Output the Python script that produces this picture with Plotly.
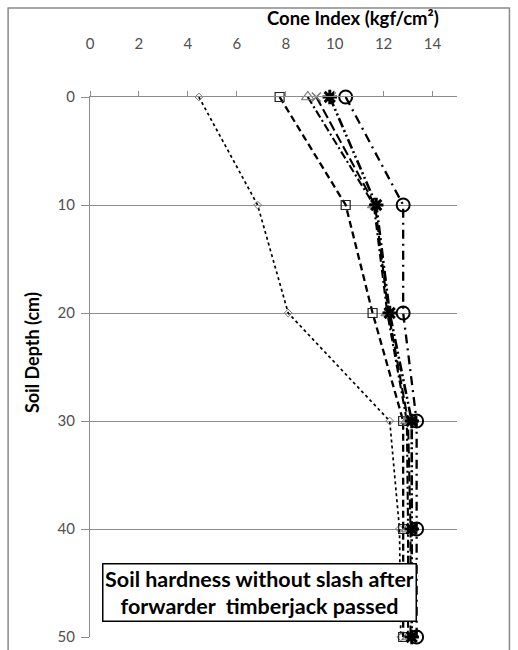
import plotly.graph_objects as go

# Soil depth (cm) and cone index readings (kgf/cm²) for each measurement line
depth = [0, 10, 20, 30, 40, 50]
ci_diamond = [4.45, 6.85, 8.1, 12.25, 12.65, 12.7]
ci_square = [7.75, 10.45, 11.55, 12.8, 12.8, 12.8]
ci_triangle = [8.9, 11.6, 12.15, 12.95, 13.0, 13.0]
ci_cross = [9.25, 11.65, 12.2, 13.0, 13.1, 13.1]
ci_star = [9.8, 11.7, 12.25, 13.15, 13.15, 13.15]
ci_circle = [10.45, 12.8, 12.8, 13.35, 13.35, 13.35]

x_ticks = [0, 2, 4, 6, 8, 10, 12, 14]
y_ticks = [0, 10, 20, 30, 40, 50]

W, H = 518, 650
ML, MR, MT, MB = 90, 60.5, 97, 13
PW, PH = W - ML - MR, H - MT - MB

FONT = "Lato, 'Open Sans', sans-serif"
GREY = "#8c8c8c"

series = [
    (ci_diamond, "diamond-open", 6, 1.0, "#777777", "dot", 1.7),
    (ci_square, "square-open", 9, 1.2, "#222222", "7px,4px", 2.3),
    (ci_triangle, "triangle-up-open", 11, 1.2, "#777777", "8px,3px,2px,3px", 2.1),
    (ci_cross, "x-thin-open", 9, 1.5, "#777777", "10px,4px", 2.1),
    (ci_star, "asterisk-open", 12, 3.0, "#000000", "10px,3px,2px,3px,2px,3px", 2.6),
    (ci_circle, "circle-open", 13, 2.0, "#000000", "9px,5px,2px,5px", 2.3),
]

fig = go.Figure()
for vals, sym, size, mlw, mcol, dash, lw in series:
    fig.add_trace(go.Scatter(
        x=vals, y=depth, mode="lines+markers",
        line=dict(color="black", width=lw, dash=dash),
        marker=dict(symbol=sym, size=size, color=mcol,
                    line=dict(color=mcol, width=mlw)),
        showlegend=False, cliponaxis=False,
    ))

def px_to_paper_x(px):
    return (px - ML) / PW

def px_to_paper_y(py):
    return (H - MB - py) / PH

fig.update_layout(
    width=W, height=H,
    margin=dict(l=ML, r=MR, t=MT, b=MB, pad=0),
    paper_bgcolor="white", plot_bgcolor="white",
    font=dict(family=FONT, color="#404040", size=14),
    xaxis=dict(
        range=[0, 15], side="top", tickvals=x_ticks,
        showgrid=False, zeroline=False, automargin=False,
        showline=True, linecolor=GREY, linewidth=1,
        ticks="outside", ticklen=5, tickcolor=GREY,
        ticklabelstandoff=36,
        tickfont=dict(size=15, color="#505050", family=FONT),
    ),
    yaxis=dict(
        range=[50, 0], tickvals=y_ticks,
        showgrid=True, gridcolor=GREY, gridwidth=1,
        zeroline=False, automargin=False,
        showline=True, linecolor=GREY, linewidth=1,
        ticks="outside", ticklen=8, tickcolor=GREY,
        ticklabelstandoff=3,
        tickfont=dict(size=15, color="#505050", family=FONT),
    ),
    shapes=[dict(
        type="rect", xref="paper", yref="paper",
        x0=px_to_paper_x(8), x1=px_to_paper_x(510),
        y0=px_to_paper_y(680), y1=px_to_paper_y(8),
        line=dict(color="#8a8a8a", width=1.5), fillcolor="rgba(0,0,0,0)",
        layer="below",
    )],
    annotations=[
        dict(text="<b>Cone Index (kgf/cm²)</b>", xref="paper", yref="paper",
             x=px_to_paper_x(353), y=px_to_paper_y(18), showarrow=False,
             font=dict(size=18.5, color="#000000", family=FONT),
             xanchor="center", yanchor="middle"),
        dict(text="<b>Soil Depth (cm)</b>", xref="paper", yref="paper",
             x=px_to_paper_x(32), y=px_to_paper_y(353), showarrow=False,
             textangle=-90,
             font=dict(size=18, color="#000000", family=FONT),
             xanchor="center", yanchor="middle"),
        dict(text="<b>Soil hardness without slash after<br>forwarder  timberjack passed</b>",
             xref="paper", yref="paper",
             x=px_to_paper_x(259.5), y=px_to_paper_y(592), showarrow=False,
             font=dict(size=21.5, color="#000000", family=FONT),
             xanchor="center", yanchor="middle", align="center",
             bgcolor="white", bordercolor="black", borderwidth=1.5,
             borderpad=2, width=308, height=52),
    ],
)

fig.write_html("out.html")
